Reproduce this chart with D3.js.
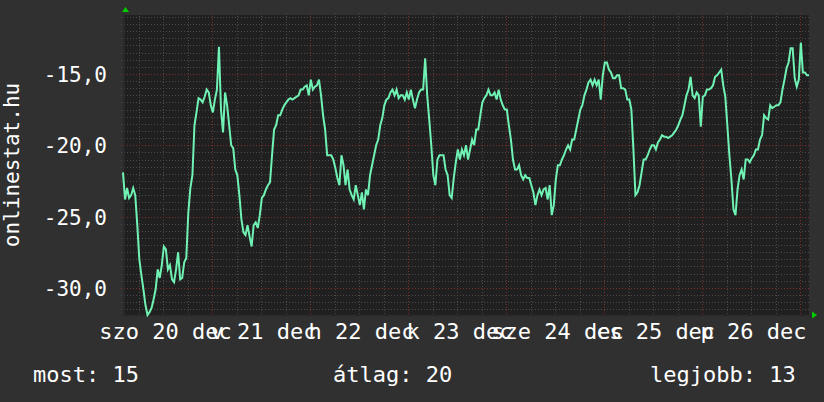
<!DOCTYPE html>
<html><head><meta charset="utf-8">
<script src="https://cdn.jsdelivr.net/npm/d3@7"></script>
<style>
html,body{margin:0;padding:0;background:#303030;}
svg{display:block;}
text{font-family:"DejaVu Sans Mono",monospace;fill:#ffffff;}
</style>
</head><body>
<svg id="chart" width="824" height="402"></svg>
<script>
// ---- data ----
const startTime = "2008-12-20T02:12:00Z";
const endTime = "2008-12-27T02:12:00Z";
const stepMinutes = 30;
const values = [
-21.9,-23.8,-23.0,-23.7,-23.5,-23.0,-23.5,-25.6,-28.0,-29.1,
-30.1,-31.2,-31.9,-31.7,-31.4,-30.8,-30.1,-28.7,-29.3,-28.4,
-27.1,-27.3,-28.7,-28.4,-29.4,-29.6,-28.7,-27.5,-29.4,-29.3,
-28.2,-27.9,-24.7,-23.0,-22.1,-18.6,-17.7,-16.7,-16.8,-17.0,
-16.6,-16.1,-16.3,-17.2,-17.7,-16.8,-16.1,-13.1,-17.5,-19.1,
-16.3,-17.2,-18.6,-20.0,-20.2,-21.7,-22.1,-23.5,-25.2,-26.1,
-26.3,-25.6,-26.4,-27.1,-25.6,-25.4,-25.8,-24.9,-23.7,-23.5,
-23.1,-22.8,-22.6,-20.7,-18.9,-18.6,-17.9,-17.9,-17.5,-17.2,
-17.0,-16.8,-16.7,-16.8,-16.7,-16.6,-16.5,-16.1,-16.1,-15.9,
-15.8,-16.5,-15.4,-16.1,-15.9,-15.8,-15.4,-16.5,-17.9,-18.9,
-20.7,-20.7,-20.7,-21.0,-21.6,-22.3,-22.8,-20.7,-21.4,-22.8,
-21.7,-23.1,-23.5,-23.8,-22.8,-23.5,-24.2,-23.3,-24.5,-23.1,
-23.5,-22.1,-21.4,-20.7,-20.0,-19.6,-18.6,-18.1,-17.2,-16.8,
-16.7,-16.3,-16.1,-16.5,-16.1,-16.7,-16.5,-16.5,-16.8,-16.3,
-16.8,-16.1,-16.8,-17.4,-16.8,-16.3,-16.1,-16.1,-13.9,-16.5,
-18.2,-20.0,-22.1,-22.8,-21.0,-20.7,-20.7,-20.7,-21.7,-22.1,
-23.5,-23.7,-22.3,-21.2,-20.3,-21.0,-20.3,-20.7,-20.0,-21.0,
-20.3,-19.6,-20.0,-18.9,-18.9,-17.9,-17.0,-16.7,-16.5,-16.1,
-16.5,-16.5,-16.3,-16.8,-16.1,-16.8,-17.2,-17.5,-17.5,-18.6,
-19.6,-21.0,-21.7,-21.7,-21.4,-22.1,-22.4,-22.1,-22.3,-22.3,
-22.8,-23.3,-24.2,-23.5,-23.1,-23.5,-23.1,-23.0,-23.8,-22.8,
-24.9,-24.2,-22.4,-21.4,-21.4,-21.0,-20.7,-20.3,-20.0,-20.3,
-19.6,-19.6,-18.9,-18.2,-17.5,-17.2,-16.5,-16.1,-15.6,-15.4,
-15.8,-15.4,-15.8,-15.4,-16.8,-15.1,-14.2,-14.2,-14.7,-14.9,
-15.3,-15.3,-15.1,-15.1,-16.0,-16.0,-16.1,-16.8,-16.8,-17.5,
-20.3,-23.5,-23.3,-22.8,-21.9,-21.0,-21.0,-20.7,-20.3,-20.0,
-20.0,-20.3,-19.8,-19.6,-19.3,-19.4,-19.4,-19.5,-19.4,-19.3,
-19.1,-18.9,-18.6,-18.2,-17.9,-17.2,-16.5,-16.1,-15.2,-16.5,
-16.7,-16.3,-16.5,-18.7,-16.6,-16.5,-16.1,-16.1,-16.0,-15.8,
-15.2,-15.1,-14.9,-14.7,-15.8,-16.6,-18.6,-20.7,-22.4,-24.5,
-24.9,-23.1,-22.1,-21.7,-22.4,-21.0,-21.0,-21.2,-20.9,-20.7,
-20.3,-20.3,-19.6,-19.3,-17.9,-18.1,-18.2,-17.2,-17.4,-17.3,
-17.2,-17.2,-17.0,-16.1,-15.4,-14.6,-14.2,-13.2,-13.2,-15.3,
-15.9,-15.4,-12.8,-14.9,-14.9,-15.1,-15.1
];
const yDomain = [-31.9, -10.87];
const yTicks = [-30, -25, -20, -15];
const dayLabelTimes = ["2008-12-20T12:00:00Z","2008-12-21T12:00:00Z","2008-12-22T12:00:00Z","2008-12-23T12:00:00Z","2008-12-24T12:00:00Z","2008-12-25T12:00:00Z","2008-12-26T12:00:00Z"];
const dayLabels = ["szo 20 dec","v 21 dec","h 22 dec","k 23 dec","sze 24 dec","cs 25 dec","p 26 dec"];
const yTitle = "onlinestat.hu";
const legendLabels = ["most: 15", "átlag: 20", "legjobb: 13"];

// ---- layout ----
const W = 824, H = 402;
const plot = {left: 123, right: 809, top: 15, bottom: 315};
const svg = d3.select("#chart");

const t0 = new Date(startTime), t1 = new Date(endTime);
const data = values.map((v, i) => ({t: new Date(t0.getTime() + i * stepMinutes * 60000), v}));

const x = d3.scaleUtc().domain([t0, t1]).range([plot.left, plot.right]);
const y = d3.scaleLinear().domain(yDomain).range([plot.bottom, plot.top]);

// plot background
svg.append("rect").attr("x", plot.left).attr("y", plot.top)
  .attr("width", plot.right - plot.left).attr("height", plot.bottom - plot.top)
  .attr("fill", "#202020");

const grid = svg.append("g").attr("shape-rendering", "crispEdges");
const minorY = d3.range(Math.ceil(yDomain[0] * 2) / 2, yDomain[1], 0.5).filter(v => Math.abs(v % 5) > 1e-6);
grid.selectAll("line.hmin").data(minorY).join("line")
  .attr("x1", plot.left - 2).attr("x2", plot.right + 2)
  .attr("y1", d => Math.round(y(d)) + 0.5).attr("y2", d => Math.round(y(d)) + 0.5)
  .attr("stroke", "#4a4a4a").attr("stroke-dasharray", "1,2");
const minorX = d3.utcHour.every(6).range(t0, t1).filter(d => d.getUTCHours() !== 0);
grid.selectAll("line.vmin").data(minorX).join("line")
  .attr("x1", d => Math.round(x(d)) + 0.5).attr("x2", d => Math.round(x(d)) + 0.5)
  .attr("y1", plot.top - 2).attr("y2", plot.bottom + 2)
  .attr("stroke", "#4a4a4a").attr("stroke-dasharray", "1,2");
grid.selectAll("line.hmaj").data(yTicks).join("line")
  .attr("x1", plot.left - 2).attr("x2", plot.right + 2)
  .attr("y1", d => Math.round(y(d)) + 0.5).attr("y2", d => Math.round(y(d)) + 0.5)
  .attr("stroke", "#7a2e2e").attr("stroke-dasharray", "1,2");
const majorX = d3.utcDay.range(t0, t1);
grid.selectAll("line.vmaj").data(majorX).join("line")
  .attr("x1", d => Math.round(x(d)) + 0.5).attr("x2", d => Math.round(x(d)) + 0.5)
  .attr("y1", plot.top - 2).attr("y2", plot.bottom + 2)
  .attr("stroke", "#7a2e2e").attr("stroke-dasharray", "1,2");

// axis lines
svg.append("line").attr("x1", plot.left + 0.5).attr("x2", plot.left + 0.5)
  .attr("y1", plot.top - 3).attr("y2", plot.bottom + 2).attr("stroke", "#2c2c2c").attr("stroke-width", 2);
svg.append("line").attr("x1", plot.left).attr("x2", plot.right + 3)
  .attr("y1", plot.bottom + 1).attr("y2", plot.bottom + 1).attr("stroke", "#2c2c2c").attr("stroke-width", 2);

// arrows
svg.append("path").attr("d", `M${plot.left - 1},${plot.top - 3} L${plot.left + 2.5},${plot.top - 8} L${plot.left + 6},${plot.top - 3} Z`).attr("fill", "#00cc00");
svg.append("path").attr("d", `M${plot.right + 3},${plot.bottom - 3.5} L${plot.right + 8},${plot.bottom} L${plot.right + 3},${plot.bottom + 3.5} Z`).attr("fill", "#00cc00");

// line
const line = d3.line().x(d => x(d.t)).y(d => y(d.v));
svg.append("path").datum(data).attr("d", line)
  .attr("fill", "none").attr("stroke", "#6ff2b4").attr("stroke-width", 2)
  .attr("stroke-linejoin", "miter");

// x axis labels
const xAxis = d3.axisBottom(x)
  .tickValues(dayLabelTimes.map(s => new Date(s)))
  .tickFormat((d, i) => dayLabels[i]).tickSize(0).tickPadding(8);
const gx = svg.append("g").attr("transform", `translate(2,${plot.bottom})`).call(xAxis);
gx.select(".domain").remove();
gx.selectAll("text").attr("font-size", 22).attr("font-family", "DejaVu Sans Mono").attr("fill", "#fff");

// y axis labels
const yAxis = d3.axisLeft(y).tickValues(yTicks)
  .tickFormat(d => d.toFixed(1).replace(".", ",")).tickSize(0).tickPadding(16);
const gy = svg.append("g").attr("transform", `translate(${plot.left},0)`).call(yAxis);
gy.select(".domain").remove();
gy.selectAll("text").attr("font-size", 21).attr("font-family", "DejaVu Sans Mono").attr("fill", "#fff").attr("dy", "0.36em");

// y title
svg.append("text").attr("transform", `translate(19,${(plot.top + plot.bottom) / 2}) rotate(-90)`)
  .attr("text-anchor", "middle").attr("font-size", 21).text(yTitle);

// legend
const legendX = [33, 333, 650];
svg.selectAll("text.leg").data(legendLabels).join("text").attr("class", "leg")
  .attr("x", (d, i) => legendX[i]).attr("y", 382).attr("font-size", 22).text(d => d);
</script>
</body></html>
